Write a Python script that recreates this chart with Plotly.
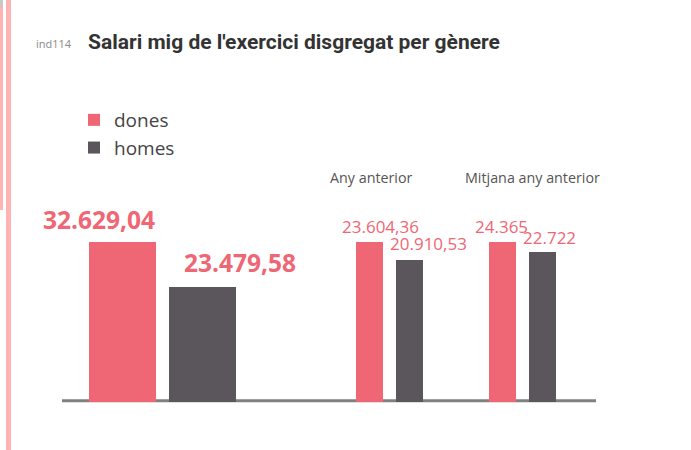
import plotly.graph_objects as go

W, H = 691, 450

# ---- data ----
genders = ["dones", "homes"]
current_values = [32629.04, 23479.58]
current_labels = ["32.629,04", "23.479,58"]
prev_year_values = [23604.36, 20910.53]
prev_year_labels = ["23.604,36", "20.910,53"]
prev_avg_values = [24365, 22722]
prev_avg_labels = ["24.365", "22.722"]
group_titles = ["", "Any anterior", "Mitjana any anterior"]
title_code = "ind114"
title_text = "Salari mig de l'exercici disgregat per gènere"

colors = {"dones": "#ef6674", "homes": "#5b565b"}
PINK = "#ef6674"


def px(x):
    return x / W


def py(y):
    return 1 - y / H


groups = [
    dict(vals=current_values, labels=current_labels, dom=(81.5, 241.5), width=0.8375,
         font=dict(family="Open Sans", size=24.5, color=PINK, weight=700),
         shifts=[(-23, 4), (38, 6)], title_x=None),
    dict(vals=prev_year_values, labels=prev_year_labels, dom=(348.5, 428.5), width=0.675,
         font=dict(family="Open Sans", size=17, color=PINK),
         shifts=[(12, 2), (20, 3)], title_x=328),
    dict(vals=prev_avg_values, labels=prev_avg_labels, dom=(481.5, 561.5), width=0.675,
         font=dict(family="Open Sans", size=17, color=PINK),
         shifts=[(0, 2), (8, 1)], title_x=463),
]

fig = go.Figure()
annotations = []
ydom = (py(402), py(200))
scale = 202 / 160.5

for gi, g in enumerate(groups):
    sfx = "" if gi == 0 else str(gi + 1)
    xa, ya = "x" + sfx, "y" + sfx
    for i, gname in enumerate(genders):
        fig.add_trace(go.Bar(
            x=[gname], y=[g["vals"][i]], name=gname,
            marker=dict(color=colors[gname], line=dict(width=0)),
            width=g["width"], xaxis=xa, yaxis=ya,
            showlegend=(gi == 0), hoverinfo="skip",
        ))
        annotations.append(dict(
            xref=xa, yref=ya, x=gname, y=g["vals"][i], text=g["labels"][i],
            showarrow=False, yanchor="bottom", xanchor="center",
            xshift=g["shifts"][i][0], yshift=g["shifts"][i][1], font=g["font"],
        ))
    axis_common = dict(showgrid=False, zeroline=False, showticklabels=False,
                       showline=False, ticks="", fixedrange=True)
    fig.layout["xaxis" + sfx] = dict(axis_common, domain=[px(g["dom"][0]), px(g["dom"][1])],
                                    range=[-0.5, 1.5], type="category",
                                    anchor="y" + sfx)
    fig.layout["yaxis" + sfx] = dict(axis_common, domain=list(ydom),
                                    range=[0, max(g["vals"]) * scale],
                                    anchor="x" + sfx)
    if group_titles[gi]:
        annotations.append(dict(
            xref="paper", yref="paper", x=px(g["title_x"]), y=py(177),
            text=group_titles[gi], showarrow=False, xanchor="left", yanchor="middle",
            font=dict(family="Open Sans", size=14.3, color="#555555"),
        ))

annotations.append(dict(
    xref="paper", yref="paper", x=px(34), y=py(44), text=title_code, showarrow=False,
    xanchor="left", yanchor="middle", font=dict(family="Open Sans", size=11, color="#8a8a8a"),
))
annotations.append(dict(
    xref="paper", yref="paper", x=px(86), y=py(42), text=title_text, showarrow=False,
    xanchor="left", yanchor="middle",
    font=dict(family="Roboto", size=21, color="#333333", weight=700),
))

shapes = [
    # baseline
    dict(type="line", xref="paper", yref="paper", x0=px(62), x1=px(596),
         y0=py(400.8), y1=py(400.8), line=dict(color="#808080", width=3), layer="below"),
    # left decorative stripes
    dict(type="rect", xref="paper", yref="paper", x0=px(6), x1=px(11), y0=0, y1=1,
         fillcolor="#ffb3b3", line=dict(width=0)),
    dict(type="rect", xref="paper", yref="paper", x0=0, x1=px(3), y0=py(210), y1=py(7),
         fillcolor="#ffb3b3", line=dict(width=0)),
    dict(type="rect", xref="paper", yref="paper", x0=0, x1=px(3), y0=py(7), y1=1,
         fillcolor="#c8c8c8", line=dict(width=0)),
]

fig.update_layout(
    width=W, height=H, margin=dict(l=0, r=0, t=0, b=0),
    paper_bgcolor="white", plot_bgcolor="white",
    barmode="overlay", bargap=0,
    annotations=annotations, shapes=shapes,
    legend=dict(x=px(74), y=py(101), xanchor="left", yanchor="top",
                font=dict(family="Open Sans", size=19, color="#444444"),
                bgcolor="rgba(0,0,0,0)", tracegroupgap=0, itemclick=False),
    showlegend=True,
)

fig.write_html("out.html")
